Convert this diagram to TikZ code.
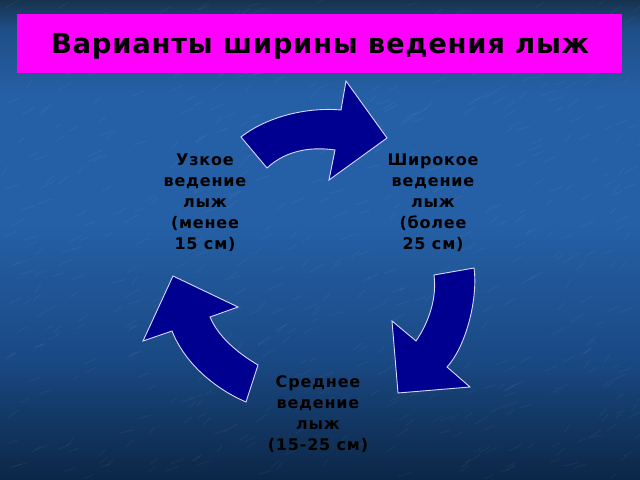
\documentclass[tikz,border=0pt]{standalone}
\usepackage{fontspec}
\setmainfont{DejaVu Sans}
\newfontfamily\lblfont{DejaVu Sans}[LetterSpace=5]
\newfontfamily\ttlfont{DejaVu Sans}[LetterSpace=2.5]
\definecolor{bgtop}{HTML}{16324E}
\definecolor{bgupper}{HTML}{1F4E86}
\definecolor{bgmid}{HTML}{2560A6}
\definecolor{bglow}{HTML}{1A4A85}
\definecolor{bgbot}{HTML}{0C2646}
\definecolor{arrowfill}{HTML}{000090}
\definecolor{titlebar}{HTML}{FF00FF}
\pgfdeclareverticalshading{bgshade}{100bp}{color(0bp)=(bgbot); color(25bp)=(bgbot); color(38bp)=(bglow); color(52bp)=(bgmid); color(65bp)=(bgmid); color(72bp)=(bgupper); color(75bp)=(bgtop); color(100bp)=(bgtop)}
\tikzset{
  arrowshape/.style={fill=arrowfill, draw=white!85!blue, line width=0.9bp, line join=miter},
  lbl/.style={text=black, align=center, font=\lblfont\bfseries\fontsize{16bp}{21bp}\selectfont},
  ttl/.style={text=black, font=\ttlfont\bfseries\fontsize{27.5bp}{31bp}\selectfont},
  streak/.style={white, opacity=0.045, line width=1bp, line cap=round}
}
\begin{document}
\begin{tikzpicture}[x=1bp,y=-1bp]
\useasboundingbox (0,0) rectangle (640,480);
% background
\shade[shading=bgshade] (0,0) rectangle (640,480);
\pgfmathsetseed{12}
\foreach \i in {1,...,600}{
  \pgfmathsetmacro{\xa}{rnd*640}
  \pgfmathsetmacro{\ya}{rnd*480}
  \pgfmathsetmacro{\dx}{5+rnd*9}
  \pgfmathsetmacro{\dy}{-3-rnd*5}
  \draw[streak] (\xa,\ya) -- ++(\dx,\dy);
}
% title bar
\node[fill=titlebar, minimum width=605bp, minimum height=59bp, inner sep=0pt] (bar) at (319.5,43.5) {};
\node[ttl] (title) at (320,46) {Варианты ширины ведения лыж};
% curved arrows
\path[arrowshape] (241,137) .. controls (268,116) and (308,107) .. (341,110)
  -- (346,81) -- (387,138) -- (329,180) -- (335,150)
  .. controls (308,146) and (284,152) .. (267,168) -- cycle;
\path[arrowshape] (434,275) -- (474,268) .. controls (478,297) and (467,345) .. (447,367)
  -- (470,387) -- (398,393) -- (392,321) -- (416,341)
  .. controls (429,322) and (437,298) .. (434,275) -- cycle;
\path[arrowshape] (246,402) .. controls (218,390) and (186,366) .. (172,331)
  -- (143,341) -- (173,276) -- (238,307) -- (210,317)
  .. controls (218,336) and (236,352) .. (258,365) -- cycle;
% labels
\node[lbl] (narrow) at (205,203) {Узкое\\ведение\\лыж\\(менее\\15 см)};
\node[lbl] (wide) at (433,203) {Широкое\\ведение\\лыж\\(более\\25 см)};
\node[lbl] (medium) at (318,414) {Среднее\\ведение\\лыж\\(15-25 см)};
\end{tikzpicture}
\end{document}
